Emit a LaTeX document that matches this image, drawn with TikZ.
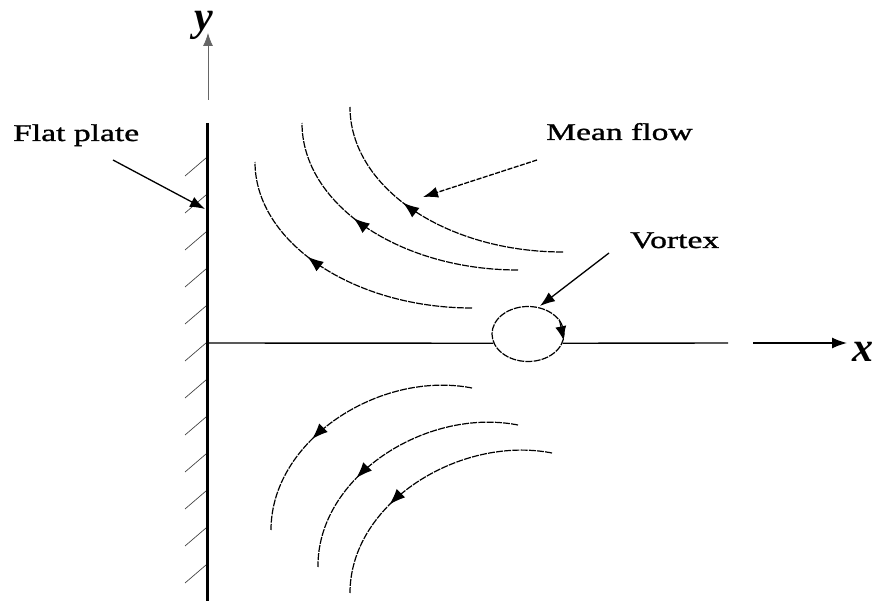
\documentclass[tikz,border=0pt]{standalone}
\usepackage{fontspec}
\setmainfont{Liberation Serif}
\newfontfamily\labelfont[FakeStretch=1.4, FakeBold=1.2]{Liberation Serif}
\usetikzlibrary{arrows.meta, decorations.markings, shapes.geometric}

\begin{document}
\begin{tikzpicture}[x=1pt, y=-1pt,
    txt/.style={font=\labelfont\fontsize{24}{28}\selectfont, inner sep=0pt},
    axtxt/.style={font=\bfseries\itshape\fontsize{42}{46}\selectfont, inner sep=0pt, text height=20pt, text depth=8pt},
    stream/.style={line width=1.2pt, dash pattern=on 7pt off 1.2pt},
    flow/.style={postaction={decorate, decoration={markings, mark=at position #1 with {\arrow{Latex[length=16pt, width=12pt]}}}}},
    pointer/.style={-{Latex[length=15pt, width=11pt]}, line width=1.3pt},
    hatch/.style={line width=0.7pt, black!75},
]
    \useasboundingbox (0,0) rectangle (879,601);

    % Coordinates
    \coordinate (o) at (207,343);
    \coordinate (platetop) at (207,123);
    \coordinate (platebot) at (207,601);

    % Flat plate and hatching
    \draw[line width=3pt] (platetop) -- (platebot);
    \foreach \hy in {158,195,...,565}
        \draw[hatch] (185,{\hy+18}) -- (206,\hy);

    % y axis
    \coordinate (ybase) at (208,100);
    \coordinate (ytip) at (208,33);
    \draw[-{Latex[length=13pt, width=10pt]}, line width=0.8pt, black!60] (ybase) -- (ytip);
    \node[axtxt, anchor=base] (ylbl) at (204,31) {y};

    % Vortex
    \node[draw, stream, ellipse, minimum width=72pt, minimum height=55pt, inner sep=0pt] (vortex) at (528,334) {};
    \draw[-{Latex[length=14pt, width=11pt]}, line width=1pt] (vortex.25) -- (vortex.350);

    % x axis
    \coordinate (xgap1) at (728,343);
    \coordinate (xgap2) at (753,343);
    \coordinate (xtip) at (847,343);
    \draw[line width=1.4pt] (o) -- (vortex.195);
    \draw[line width=1.4pt] (vortex.345) -- (xgap1);
    \draw[-{Latex[length=15pt, width=11pt]}, line width=1.4pt] (xgap2) -- (xtip);
    \node[axtxt, anchor=base west] (xlbl) at (852,362) {x};

    % Upper streamlines
    \draw[stream, flow=0.6] (563,252) .. controls (445,252) and (350,187) .. (350,107);
    \draw[stream, flow=0.61] (518,270) .. controls (399,270) and (302,204) .. (302,123);
    \draw[stream, flow=0.61] (472,308) .. controls (353,308) and (255,242) .. (255,162);

    % Lower streamlines
    \draw[stream, flow=0.63] (472,388) .. controls (380,370) and (271,440) .. (271,530);
    \draw[stream, flow=0.64] (518,425) .. controls (426,407) and (317,477) .. (318,567);
    \draw[stream, flow=0.64] (552,453) .. controls (460,435) and (350,503) .. (350,593);

    % Labels
    \node[txt, anchor=base west] (flat) at (13,141) {Flat plate};
    \node[txt, anchor=base west] (mean) at (546,140) {Mean flow};
    \node[txt, anchor=base west] (vortexlbl) at (630,248) {Vortex};

    % Pointers
    \coordinate (flattail) at (113,160);
    \coordinate (flattip) at (205,209);
    \coordinate (meantail) at (537,160);
    \coordinate (meantip) at (423,197);
    \coordinate (vortail) at (609,253);
    \coordinate (vortip) at (540,306);
    \draw[pointer] (flattail) -- (flattip);
    \draw[pointer, dash pattern=on 5pt off 1.5pt] (meantail) -- (meantip);
    \draw[pointer] (vortail) -- (vortip);
\end{tikzpicture}
\end{document}
